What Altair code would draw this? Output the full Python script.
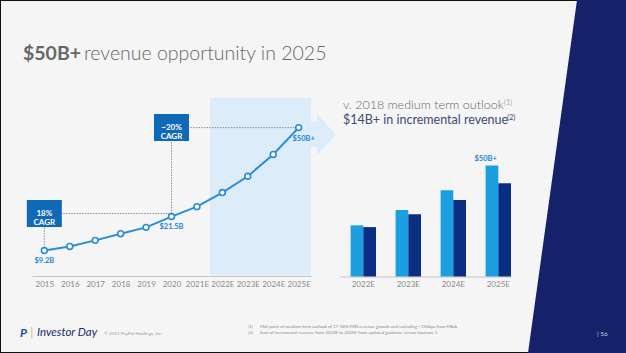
import altair as alt
import pandas as pd

# ---------------- data ----------------
YEARS = ["2015", "2016", "2017", "2018", "2019", "2020", "2021E", "2022E", "2023E", "2024E", "2025E"]
REVENUE = [9.2, 10.7, 12.9, 15.3, 17.6, 21.5, 25.1, 30.2, 36.1, 44.0, 53.7]

VALUE_LABEL_YEARS = ["2015", "2020", "2025E"]
VALUE_LABEL_VALUES = [9.2, 21.5, 53.7]
VALUE_LABELS = ["$9.2B", "$21.5B", "$50B+"]

CAGR_YEARS = ["2015", "2020"]
CAGR_LEVELS = [22.6, 53.7]
CAGR_TEXT = ["18%\nCAGR", "~20%\nCAGR"]

GUIDE_X1 = ["2015", "2015", "2020", "2020"]
GUIDE_Y1 = [9.2, 22.6, 21.5, 53.7]
GUIDE_X2 = ["2015", "2020", "2020", "2025E"]
GUIDE_Y2 = [22.6, 22.6, 53.7, 53.7]

BAR_YEARS = ["2022E", "2023E", "2024E", "2025E"]
BAR_SERIES = ["Updated outlook", "2018 medium term outlook"]
BAR_UPDATED = [30.3, 36.4, 44.2, 54.0]
BAR_2018 = [29.6, 34.7, 40.4, 47.0]
BAR_TOP_LABEL = "$50B+"

TITLE_BOLD = "$50B+"
TITLE_REST = "revenue opportunity in 2025"
SUB1 = "v. 2018 medium term outlook"
SUP1 = "(1)"
SUB2 = "$14B+ in incremental revenue"
SUP2 = "(2)"
LOGO = "P"
BRAND = "Investor Day"
COPYRIGHT = "© 2021 PayPal Holdings, Inc."
NOTE_MARKS = ["(1)", "(2)"]
NOTES = [
    "Mid-point of medium term outlook of 17-18% FXN revenue growth and excluding ~150bps from M&A",
    "Sum of incremental revenue from 2022E to 2025E from updated guidance versus footnote 1",
]
PAGE = "| 56"

# ---------------- styles ----------------
FONT = "Lato"
BG = "#f5f5f5"
NAVY = "#15226a"
SHADE = "#ddecf9"
LINE_BLUE = "#2a8dd5"
LABEL_BLUE = "#1f86cf"
BOX_BLUE = "#0f69b6"
BAR_LIGHT = "#1c9fe0"
BAR_DARK = "#0b2e85"
TITLE_GRAY = "#676767"
AXIS_GRAY = "#8a8a8a"
GUIDE_GRAY = "#8f8f8f"

W, H = 626, 353

# ---------------- scales ----------------
px_x = alt.Scale(domain=[0, W], range=[0, W], nice=False, zero=False)
px_y = alt.Scale(domain=[0, H], range=[0, H], nice=False, zero=False)

x_line = alt.Scale(type="point", domain=YEARS, range=[32, 311], padding=0.485)
y_line = alt.Scale(domain=[0, 60], range=[276, 110.2], nice=False, zero=False)

x_bar = alt.Scale(type="band", domain=BAR_YEARS, range=[340, 511],
                  paddingInner=0.4356, paddingOuter=0.1178, align=1)
y_bar = alt.Scale(domain=[10, 60], range=[276.5, 150.5], nice=False, zero=False)
off_bar = alt.Scale(domain=BAR_SERIES, paddingInner=0, paddingOuter=0)


def axis_bottom(offset):
    return alt.Axis(orient="bottom", offset=offset, title=None, ticks=False, tickSize=0,
                    grid=False, domainColor="#c4c4c4", domainWidth=1.2,
                    labelColor=AXIS_GRAY, labelFont=FONT, labelFontSize=8,
                    labelPadding=4, labelAngle=0)


def one():
    return pd.DataFrame({"k": [0]})


def txt(s, x, y, size, color, weight="normal", align="left", style="normal",
        baseline="middle", font=FONT):
    return alt.Chart(pd.DataFrame({"t": [s]})).mark_text(
        align=align, baseline=baseline, font=font, fontSize=size,
        fontWeight=weight, fontStyle=style, color=color
    ).encode(x=alt.value(x), y=alt.value(y), text="t:N")


# ---------------- decorations ----------------
navy_df = pd.DataFrame({"y": [0, H], "x": [577, 528]})
navy = alt.Chart(navy_df).mark_area(orient="horizontal", color=NAVY, opacity=1).encode(
    y=alt.Y("y:Q", scale=px_y, axis=None),
    x=alt.X("x:Q", scale=px_x, axis=None),
    x2=alt.X2(datum=W + 5),
)

shade = alt.Chart(one()).mark_rect(color=SHADE).encode(
    x=alt.value(210), x2=alt.value(311), y=alt.value(98), y2=alt.value(275.5)
)
arrow_body = alt.Chart(one()).mark_rect(color=SHADE).encode(
    x=alt.value(311), x2=alt.value(318), y=alt.value(122), y2=alt.value(147)
)
head_df = pd.DataFrame({"x": [317, 336], "y": [114, 134.5], "y2": [155, 134.5]})
arrow_head = alt.Chart(head_df).mark_area(color=SHADE, opacity=1).encode(
    x=alt.X("x:Q", scale=px_x, axis=None),
    y=alt.Y("y:Q", scale=px_y, axis=None),
    y2="y2:Q",
)

# ---------------- line chart ----------------
line_df = pd.DataFrame({"year": YEARS, "revenue": REVENUE})

guides_df = pd.DataFrame({"x1": GUIDE_X1, "y1": GUIDE_Y1, "x2": GUIDE_X2, "y2": GUIDE_Y2})
guides = alt.Chart(guides_df).mark_rule(color=GUIDE_GRAY, strokeWidth=1, strokeDash=[1.5, 1.2]).encode(
    x=alt.X("x1:N", scale=x_line, axis=None),
    x2="x2:N",
    y=alt.Y("y1:Q", scale=y_line, axis=None),
    y2="y2:Q",
)

line = alt.Chart(line_df).mark_line(color=LINE_BLUE, strokeWidth=2).encode(
    x=alt.X("year:N", scale=x_line, axis=axis_bottom(-(H - 276)), sort=YEARS),
    y=alt.Y("revenue:Q", scale=y_line, axis=None),
)
points = alt.Chart(line_df).mark_point(
    shape="circle", filled=True, fill="#ffffff", stroke=LINE_BLUE, strokeWidth=1.6,
    size=34, opacity=1
).encode(
    x=alt.X("year:N", scale=x_line, axis=None),
    y=alt.Y("revenue:Q", scale=y_line, axis=None),
)

vl_df = pd.DataFrame({"year": VALUE_LABEL_YEARS, "v": VALUE_LABEL_VALUES, "label": VALUE_LABELS})
vlabels_low = alt.Chart(vl_df.iloc[:2]).mark_text(
    font=FONT, fontSize=7.5, fontWeight="bold", color=LABEL_BLUE, dy=10, baseline="middle"
).encode(
    x=alt.X("year:N", scale=x_line, axis=None),
    y=alt.Y("v:Q", scale=y_line, axis=None),
    text="label:N",
)
vlabels_top = alt.Chart(vl_df.iloc[2:]).mark_text(
    font=FONT, fontSize=7.5, fontWeight="bold", color=LABEL_BLUE, dx=5, dy=11, baseline="middle"
).encode(
    x=alt.X("year:N", scale=x_line, axis=None),
    y=alt.Y("v:Q", scale=y_line, axis=None),
    text="label:N",
)

cagr_df = pd.DataFrame({"year": CAGR_YEARS, "v": CAGR_LEVELS, "label": CAGR_TEXT})
RECT_PATH = "M-1,-0.771L1,-0.771L1,0.771L-1,0.771Z"
cagr_box = alt.Chart(cagr_df).mark_point(
    shape=RECT_PATH, size=1225, filled=True, color=BOX_BLUE, opacity=1, strokeWidth=0
).encode(
    x=alt.X("year:N", scale=x_line, axis=None),
    y=alt.Y("v:Q", scale=y_line, axis=None),
)
cagr_text = alt.Chart(cagr_df).mark_text(
    font=FONT, fontSize=8, fontWeight="bold", color="#ffffff", lineBreak="\n",
    lineHeight=9.5, align="center", baseline="middle"
).encode(
    x=alt.X("year:N", scale=x_line, axis=None),
    y=alt.Y("v:Q", scale=y_line, axis=None),
    text="label:N",
)

# ---------------- bar chart ----------------
bar_df = pd.DataFrame({
    "year": BAR_YEARS * 2,
    "series": [BAR_SERIES[0]] * len(BAR_YEARS) + [BAR_SERIES[1]] * len(BAR_YEARS),
    "value": BAR_UPDATED + BAR_2018,
})
bars = alt.Chart(bar_df).mark_bar(opacity=1).encode(
    x=alt.X("year:N", scale=x_bar, axis=axis_bottom(-(H - 276.5)), sort=BAR_YEARS),
    xOffset=alt.XOffset("series:N", scale=off_bar, sort=BAR_SERIES),
    y=alt.Y("value:Q", scale=y_bar, axis=None),
    y2=alt.datum(10),
    color=alt.Color("series:N", scale=alt.Scale(domain=BAR_SERIES, range=[BAR_LIGHT, BAR_DARK]),
                    legend=None),
)
top_df = pd.DataFrame({"year": [BAR_YEARS[-1]], "series": [BAR_SERIES[0]],
                       "value": [BAR_UPDATED[-1]], "label": [BAR_TOP_LABEL]})
bar_label = alt.Chart(top_df).mark_text(
    font=FONT, fontSize=7.5, fontWeight="bold", color=LABEL_BLUE, dy=-6.5, baseline="middle"
).encode(
    x=alt.X("year:N", scale=x_bar, axis=None),
    xOffset=alt.XOffset("series:N", scale=off_bar),
    y=alt.Y("value:Q", scale=y_bar, axis=None),
    text="label:N",
)

# ---------------- texts ----------------
texts = [
    txt(TITLE_BOLD, 23, 60, 19.5, TITLE_GRAY, weight="bold", baseline="alphabetic"),
    txt(TITLE_REST, 84, 60, 19.5, TITLE_GRAY, weight=300, baseline="alphabetic"),
    txt(SUB1, 343, 109.3, 12.5, "#6a6a6a", weight=300, baseline="alphabetic"),
    txt(SUP1, 504, 104.5, 7.5, "#6a6a6a", weight=300, baseline="alphabetic"),
    txt(SUB2, 343, 124, 12.5, "#3f4b70", baseline="alphabetic"),
    txt(SUP2, 507, 119.5, 7.5, "#3f4b70", baseline="alphabetic"),
    txt(LOGO, 20, 332.5, 12, "#1b4ea0", weight="bold", style="italic"),
    txt("|", 30.5, 332.5, 11, "#f0a33a", style="italic"),
    txt(BRAND, 37, 332.5, 11.5, "#1c2b6e", style="italic"),
    txt(COPYRIGHT, 104, 333.5, 4.6, "#9a9a9a"),
    txt(NOTE_MARKS[0], 248, 327, 4.4, "#8a8a8a"),
    txt(NOTES[0], 260, 327, 4.4, "#8a8a8a"),
    txt(NOTE_MARKS[1], 248, 332.5, 4.4, "#8a8a8a"),
    txt(NOTES[1], 260, 332.5, 4.4, "#8a8a8a"),
    txt(PAGE, 597, 333.5, 6.5, "#c9cde2"),
]

layers = [navy, shade, arrow_body, arrow_head, guides, line, points, vlabels_low, vlabels_top,
          cagr_box, cagr_text, bars, bar_label] + texts

chart = alt.layer(*layers).resolve_scale(
    x="independent", y="independent", xOffset="independent", color="independent"
).properties(
    width=W, height=H, padding=0, background=BG,
    autosize=alt.AutoSizeParams(type="none"),
).configure_view(stroke="#111111", strokeWidth=2)

chart.save("out.html", embed_options={"renderer": "svg", "actions": False})
